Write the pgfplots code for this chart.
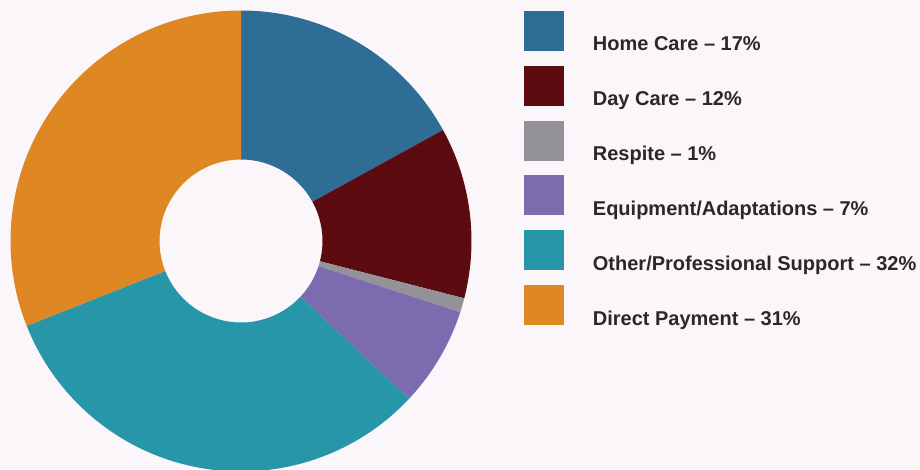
\documentclass[border=0pt]{standalone}
\usepackage{pgfplots}
\usepackage{pgfplotstable}
\pgfplotsset{compat=1.18}
\usepackage{fontspec}
\setmainfont{Liberation Sans}
\definecolor{bg}{HTML}{FAF6FA}
\definecolor{txt}{HTML}{2B272B}
\definecolor{c1}{HTML}{2E6E96}
\definecolor{c2}{HTML}{5C0B10}
\definecolor{c3}{HTML}{939298}
\definecolor{c4}{HTML}{7D6BB0}
\definecolor{c5}{HTML}{2796A8}
\definecolor{c6}{HTML}{DF8722}
\pgfplotstableread[col sep=comma]{
label,value,color
Home Care,17,c1
Day Care,12,c2
Respite,1,c3
Equipment/Adaptations,7,c4
Other/Professional Support,32,c5
Direct Payment,31,c6
}\data
\begin{document}
\begin{tikzpicture}
\fill[bg] (0,0) rectangle (920pt,469pt);
\begin{axis}[
  at={(0,0)}, anchor=south west,
  scale only axis, width=920pt, height=469pt,
  xmin=0, xmax=920, ymin=0, ymax=469,
  enlargelimits=false, hide axis, clip=true,
]
\pgfplotstablegetrowsof{\data}\let\nrows\pgfplotsretval
\pgfmathtruncatemacro\lastrow{\nrows-1}
\def\cum{0}
\pgfplotsforeachungrouped \i in {0,...,\lastrow}{%
  \pgfplotstablegetelem{\i}{value}\of\data \let\v\pgfplotsretval
  \pgfplotstablegetelem{\i}{color}\of\data \let\col\pgfplotsretval
  \pgfplotstablegetelem{\i}{label}\of\data \let\lab\pgfplotsretval
  \pgfmathsetmacro\aA{90-3.6*\cum}%
  \pgfmathsetmacro\aB{90-3.6*(\cum+\v)}%
  \pgfmathsetmacro\cum{\cum+\v}%
  \pgfmathsetmacro\ly{469-51-54.8*\i}%
  \pgfmathsetmacro\lyt{\ly+40}%
  \edef\cmd{%
    \noexpand\fill[\col] ([shift={(\aA:230.5pt)}]axis cs:241,228) arc[start angle=\aA,end angle=\aB,radius=230.5pt]
      -- ([shift={(\aB:81.5pt)}]axis cs:241,228) arc[start angle=\aB,end angle=\aA,radius=81.5pt] -- cycle;
    \noexpand\fill[\col] (axis cs:524,\ly) rectangle (axis cs:564,\lyt);
    \noexpand\node[anchor=base west, text=txt, inner sep=0pt, font=\noexpand\fontsize{20}{24}\noexpand\selectfont\noexpand\bfseries] at (axis cs:592.7,\ly) {\lab{} – \v\noexpand\%};
  }%
  \cmd
}
\end{axis}
\pgfresetboundingbox
\useasboundingbox (0,0) rectangle (920pt,469pt);
\end{tikzpicture}
\end{document}
